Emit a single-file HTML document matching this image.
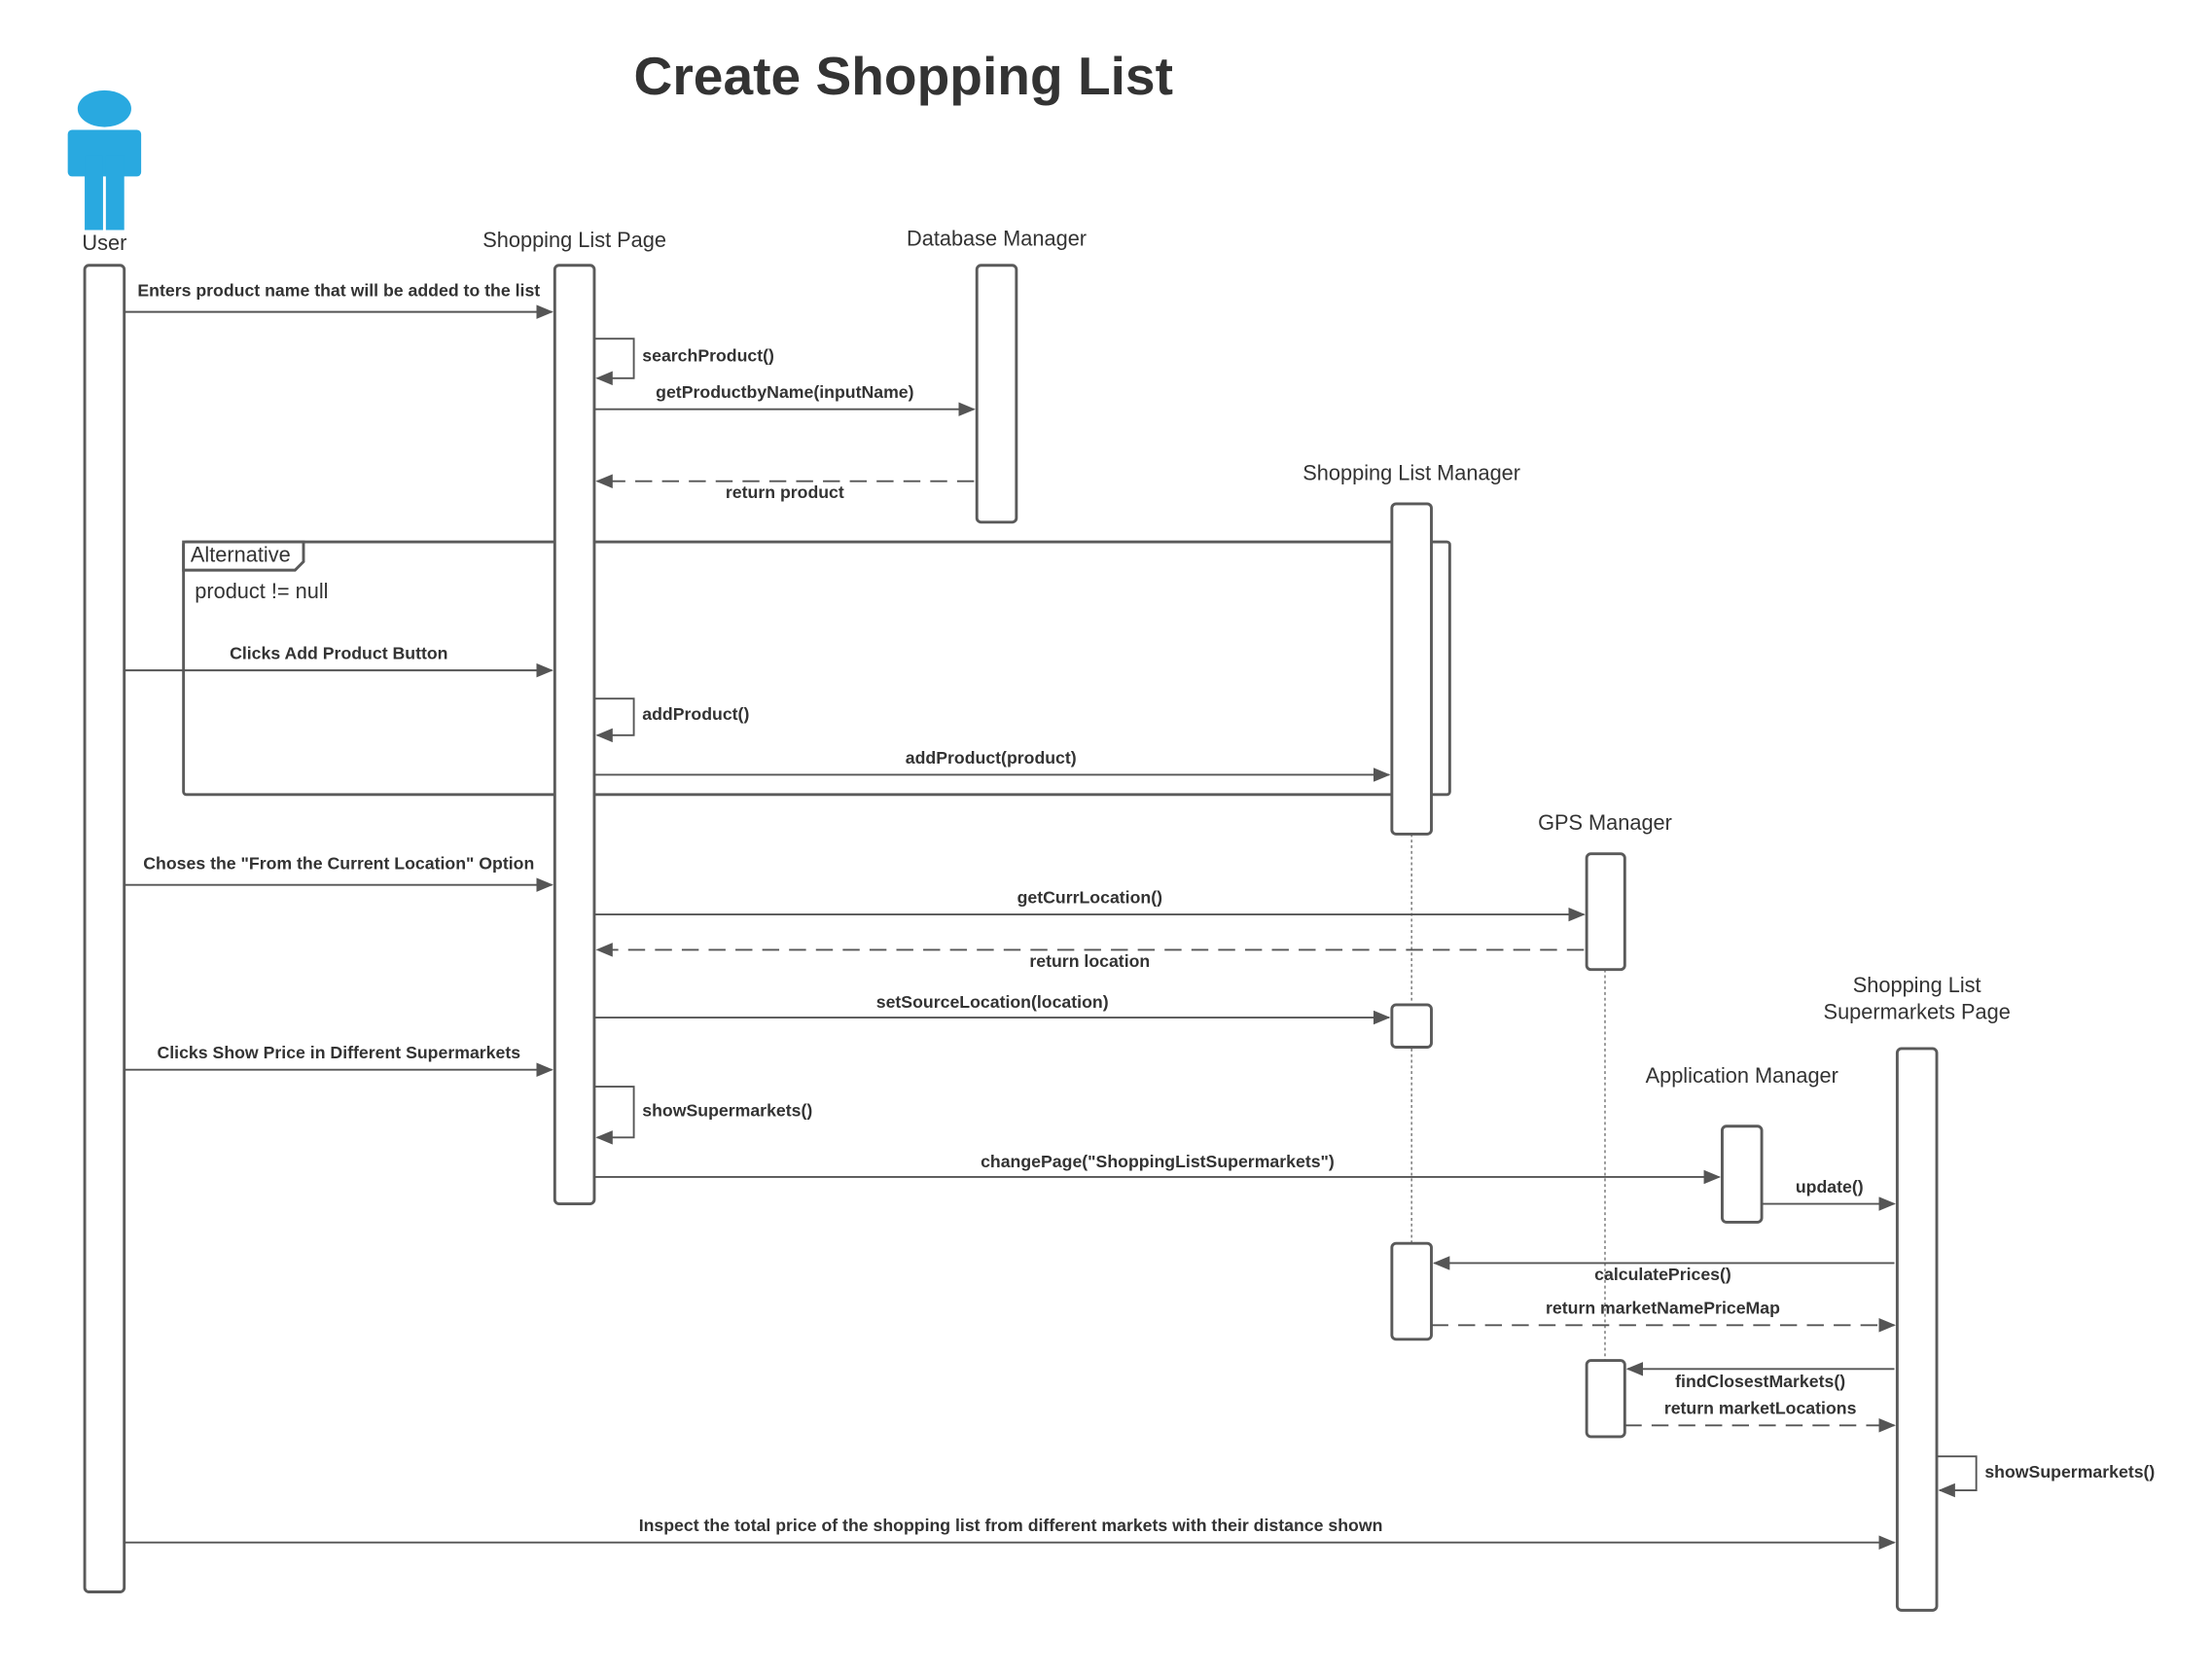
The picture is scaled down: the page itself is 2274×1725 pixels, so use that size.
<!DOCTYPE html>
<html><head><meta charset="utf-8"><style>
html,body{margin:0;padding:0;background:#fff;}
svg{display:block;}
text{font-family:"Liberation Sans",sans-serif;fill:#333;}
.m{font-size:12.2px;font-weight:bold;text-anchor:middle;}
.l{font-size:15px;text-anchor:middle;}
.b{fill:#fff;stroke:#5a5a5a;stroke-width:2;}
.a{stroke:#555;stroke-width:1.3;fill:none;}
.d{stroke:#555;stroke-width:1.3;fill:none;stroke-dasharray:12,7;}
</style></head><body>
<svg width="2274" height="1725" viewBox="0 0 1567 1189" preserveAspectRatio="none" xmlns="http://www.w3.org/2000/svg">
<defs><marker id="ar" markerWidth="12" markerHeight="10" refX="11" refY="5" orient="auto" markerUnits="userSpaceOnUse"><path d="M0,0 L12,5 L0,10 z" fill="#555"/></marker></defs>
<rect width="1567" height="1189" fill="#fff"/>
<text x="640" y="67" style="font-size:38px;font-weight:bold;text-anchor:middle">Create Shopping List</text>
<g fill="#29a9e0"><ellipse cx="74" cy="77" rx="19" ry="13"/><rect x="48" y="92" width="52" height="33" rx="3"/><rect x="60" y="110" width="13" height="53"/><rect x="75" y="110" width="13" height="53"/></g>
<text class="l" x="74" y="177">User</text>
<text class="l" x="407" y="175">Shopping List Page</text>
<text class="l" x="706" y="174">Database Manager</text>
<text class="l" x="1000" y="340">Shopping List Manager</text>
<text class="l" x="1137" y="588">GPS Manager</text>
<text class="l" x="1358" y="703">Shopping List</text>
<text class="l" x="1358" y="722">Supermarkets Page</text>
<text class="l" x="1234" y="767">Application Manager</text>
<line x1="1000" y1="591" x2="1000" y2="881" stroke="#777" stroke-width="1" stroke-dasharray="2,2"/>
<line x1="1137" y1="687" x2="1137" y2="964" stroke="#777" stroke-width="1" stroke-dasharray="2,2"/>
<rect x="130" y="384" width="897" height="179" rx="2" fill="none" stroke="#5a5a5a" stroke-width="2"/>
<path d="M130,384 H215 V398 L209,404 H130 Z" fill="#fff" stroke="#5a5a5a" stroke-width="2"/>
<text x="135" y="398" style="font-size:15px">Alternative</text>
<text x="138" y="424" style="font-size:15px">product != null</text>
<rect class="b" x="60" y="188" width="28" height="940" rx="3"/>
<rect class="b" x="393" y="188" width="28" height="665" rx="3"/>
<rect class="b" x="692" y="188" width="28" height="182" rx="3"/>
<rect class="b" x="986" y="357" width="28" height="234" rx="3"/>
<rect class="b" x="986" y="712" width="28" height="30" rx="3"/>
<rect class="b" x="986" y="881" width="28" height="68" rx="3"/>
<rect class="b" x="1124" y="605" width="27" height="82" rx="3"/>
<rect class="b" x="1124" y="964" width="27" height="54" rx="3"/>
<rect class="b" x="1344" y="743" width="28" height="398" rx="3"/>
<rect class="b" x="1220" y="798" width="28" height="68" rx="3"/>
<line class="a" x1="88" y1="221" x2="391" y2="221" marker-end="url(#ar)"/><text class="m" x="240" y="210">Enters product name that will be added to the list</text>
<path class="a" d="M421,240 H449 V268 H423" marker-end="url(#ar)"/><text class="m" x="455" y="256" style="text-anchor:start">searchProduct()</text>
<line class="a" x1="421" y1="290" x2="690" y2="290" marker-end="url(#ar)"/><text class="m" x="556" y="282">getProductbyName(inputName)</text>
<line class="d" x1="690" y1="341" x2="423" y2="341" marker-end="url(#ar)"/><text class="m" x="556" y="353">return product</text>
<line class="a" x1="88" y1="475" x2="391" y2="475" marker-end="url(#ar)"/><text class="m" x="240" y="467">Clicks Add Product Button</text>
<path class="a" d="M421,495 H449 V521 H423" marker-end="url(#ar)"/><text class="m" x="455" y="510" style="text-anchor:start">addProduct()</text>
<line class="a" x1="421" y1="549" x2="984" y2="549" marker-end="url(#ar)"/><text class="m" x="702" y="541">addProduct(product)</text>
<line class="a" x1="88" y1="627" x2="391" y2="627" marker-end="url(#ar)"/><text class="m" x="240" y="616">Choses the "From the Current Location" Option</text>
<line class="a" x1="421" y1="648" x2="1122" y2="648" marker-end="url(#ar)"/><text class="m" x="772" y="640">getCurrLocation()</text>
<line class="d" x1="1122" y1="673" x2="423" y2="673" marker-end="url(#ar)"/><text class="m" x="772" y="685">return location</text>
<line class="a" x1="421" y1="721" x2="984" y2="721" marker-end="url(#ar)"/><text class="m" x="703" y="714">setSourceLocation(location)</text>
<line class="a" x1="88" y1="758" x2="391" y2="758" marker-end="url(#ar)"/><text class="m" x="240" y="750">Clicks Show Price in Different Supermarkets</text>
<path class="a" d="M421,770 H449 V806 H423" marker-end="url(#ar)"/><text class="m" x="455" y="791" style="text-anchor:start">showSupermarkets()</text>
<line class="a" x1="421" y1="834" x2="1218" y2="834" marker-end="url(#ar)"/><text class="m" x="820" y="827">changePage("ShoppingListSupermarkets")</text>
<line class="a" x1="1248" y1="853" x2="1342" y2="853" marker-end="url(#ar)"/><text class="m" x="1296" y="845">update()</text>
<line class="a" x1="1342" y1="895" x2="1016" y2="895" marker-end="url(#ar)"/><text class="m" x="1178" y="907">calculatePrices()</text>
<line class="d" x1="1014" y1="939" x2="1342" y2="939" marker-end="url(#ar)"/><text class="m" x="1178" y="931">return marketNamePriceMap</text>
<line class="a" x1="1342" y1="970" x2="1153" y2="970" marker-end="url(#ar)"/><text class="m" x="1247" y="983">findClosestMarkets()</text>
<line class="d" x1="1151" y1="1010" x2="1342" y2="1010" marker-end="url(#ar)"/><text class="m" x="1247" y="1002">return marketLocations</text>
<path class="a" d="M1372,1032 H1400 V1056 H1374" marker-end="url(#ar)"/><text class="m" x="1406" y="1047" style="text-anchor:start">showSupermarkets()</text>
<line class="a" x1="88" y1="1093" x2="1342" y2="1093" marker-end="url(#ar)"/><text class="m" x="716" y="1085">Inspect the total price of the shopping list from different markets with their distance shown</text>
</svg>
</body></html>
